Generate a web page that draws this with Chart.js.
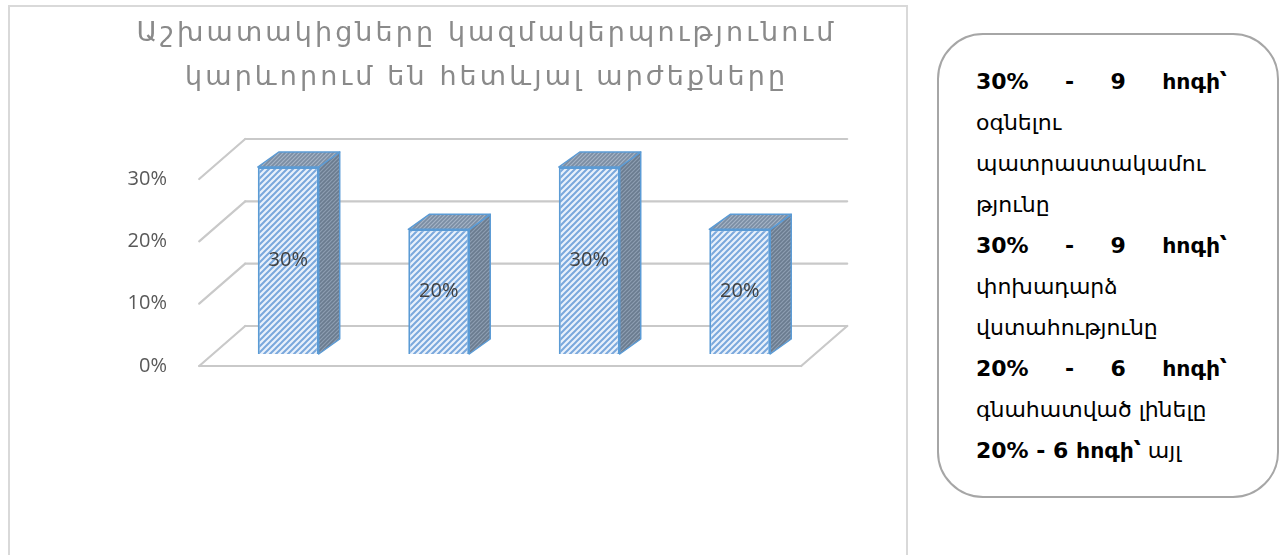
<!DOCTYPE html>
<html lang="hy">
<head>
<meta charset="UTF-8">
<title>Արժեքներ</title>
<script src="https://cdn.jsdelivr.net/npm/chart.js"></script>
<style>
  body { margin: 0; background: #fff; width: 1284px; height: 555px; overflow: hidden; position: relative; }
  #frame { position: absolute; left: 8px; top: 5px; width: 900px; height: 600px; border: 2px solid #d9d9d9; box-sizing: border-box; }
  #chart { position: absolute; left: 0; top: 0; }
  #note {
    position: absolute; left: 937px; top: 33px; width: 342px; height: 465px;
    border: 2px solid #a6a6a6; border-radius: 46px; box-sizing: border-box;
    padding: 26px 50px 0 37px;
    font-family: "DejaVu Sans", sans-serif; font-size: 22px; line-height: 41px; color: #000;
  }
  #note div { white-space: nowrap; }
  #note .j { text-align: justify; text-align-last: justify; }
  #note b { font-weight: bold; }
</style>
</head>
<body>
<div id="frame"></div>
<canvas id="chart" width="910" height="555"></canvas>
<div id="note">
  <div class="j"><b>30% - 9 հոգի՝</b></div>
  <div>օգնելու</div>
  <div>պատրաստակամու</div>
  <div>թյունը</div>
  <div class="j"><b>30% - 9 հոգի՝</b></div>
  <div>փոխադարձ</div>
  <div>վստահությունը</div>
  <div class="j"><b>20% - 6 հոգի՝</b></div>
  <div>գնահատված լինելը</div>
  <div><b>20% - 6 հոգի՝</b> այլ</div>
</div>

<script>
// data
const titleLines = ['Աշխատակիցները կազմակերպությունում', 'կարևորում են հետևյալ արժեքները'];
const categories = ['1', '2', '3', '4'];
const values = [30, 20, 30, 20];
const tickValues = [0, 10, 20, 30];

// 3d look
const FLOOR_DX = 46, FLOOR_DY = 40;   // depth of the floor
const FRONT_D = 0.3;                  // bars stand at this depth of the floor
const BAR_DX = 21, BAR_DY = 15;       // depth of a bar
const GRID = '#c9c9c9';

function hatch(bg, fg, size, lw) {
  const c = document.createElement('canvas');
  c.width = size; c.height = size;
  const g = c.getContext('2d');
  g.fillStyle = bg;
  g.fillRect(0, 0, size, size);
  g.strokeStyle = fg;
  g.lineWidth = lw;
  g.beginPath();
  g.moveTo(-1, size + 1); g.lineTo(size + 1, -1);
  g.moveTo(-1, 1); g.lineTo(1, -1);
  g.moveTo(size - 1, size + 1); g.lineTo(size + 1, size - 1);
  g.stroke();
  return g.createPattern(c, 'repeat');
}

const ctx = document.getElementById('chart').getContext('2d');
const frontFill = hatch('#e9f1fb', '#7aa8dc', 6, 2);
const sideFill = hatch('#6a7b8f', '#8d9eb2', 4, 1.2);
const topFill = hatch('#7b8da3', '#a5b4c6', 4, 1.2);

const titlePlugin = {
  id: 'spacedTitle',
  afterDraw(chart) {
    const c = chart.ctx;
    c.save();
    c.font = '27px "DejaVu Sans"';
    c.fillStyle = '#8a8a8a';
    c.textAlign = 'left';
    c.textBaseline = 'alphabetic';
    // spread the first line to its width in the picture, same spacing for the second
    const w0 = c.measureText(titleLines[0]).width;
    const sp = (700 - w0) / titleLines[0].length;
    c.letterSpacing = sp + 'px';
    const cx = 485;
    titleLines.forEach((t, i) => {
      const w = c.measureText(t).width - sp;
      c.fillText(t, cx - w / 2, 41 + i * 44);
    });
    c.restore();
  }
};

const box3d = {
  id: 'box3d',
  beforeDatasetsDraw(chart) {
    const c = chart.ctx;
    const a = chart.chartArea;
    const y = chart.scales.y;
    const P = (x, py, d) => [x + (d - FRONT_D) * FLOOR_DX, py - (d - FRONT_D) * FLOOR_DY];
    c.save();
    c.strokeStyle = GRID;
    c.lineWidth = 2.2;
    c.lineCap = 'round';
    const line = (p, q) => { c.beginPath(); c.moveTo(p[0], p[1]); c.lineTo(q[0], q[1]); c.stroke(); };
    tickValues.forEach(v => {
      const py = y.getPixelForValue(v);
      line(P(a.left, py, 0), P(a.left, py, 1));
      line(P(a.left, py, 1), P(a.right, py, 1));
    });
    const p0 = y.getPixelForValue(0);
    line(P(a.left, p0, 0), P(a.right, p0, 0));
    line(P(a.right, p0, 0), P(a.right, p0, 1));

    // side and top faces of the bars
    c.strokeStyle = '#5b9bd5';
    c.lineWidth = 1.5;
    c.lineJoin = 'round';
    chart.getDatasetMeta(0).data.forEach(bar => {
      const l = bar.x - bar.width / 2, r = bar.x + bar.width / 2;
      const t = bar.y, b = bar.base;
      c.beginPath();
      c.moveTo(r, t); c.lineTo(r + BAR_DX, t - BAR_DY); c.lineTo(r + BAR_DX, b - BAR_DY); c.lineTo(r, b);
      c.closePath();
      c.fillStyle = sideFill; c.fill(); c.stroke();
      c.beginPath();
      c.moveTo(l, t); c.lineTo(l + BAR_DX, t - BAR_DY); c.lineTo(r + BAR_DX, t - BAR_DY); c.lineTo(r, t);
      c.closePath();
      c.fillStyle = topFill; c.fill(); c.stroke();
    });
    c.restore();
  },
  afterDatasetsDraw(chart) {
    const c = chart.ctx;
    c.save();
    c.font = '20px "Open Sans"';
    c.fillStyle = '#404040';
    c.textAlign = 'center';
    c.textBaseline = 'middle';
    chart.getDatasetMeta(0).data.forEach((bar, i) => {
      c.fillText(values[i] + '%', bar.x, (bar.y + bar.base) / 2);
    });
    c.restore();
  }
};

new Chart(ctx, {
  type: 'bar',
  data: {
    labels: categories,
    datasets: [{
      data: values,
      backgroundColor: frontFill,
      borderColor: '#5b9bd5',
      borderWidth: 2,
      barPercentage: 0.405,
      categoryPercentage: 1
    }]
  },
  options: {
    responsive: false,
    animation: false,
    events: [],
    layout: { padding: { top: 167, bottom: 201, left: 0, right: 95 } },
    plugins: { legend: { display: false }, tooltip: { enabled: false }, title: { display: false } },
    scales: {
      x: { display: false },
      y: {
        min: 0, max: 30,
        afterFit(s) { s.width = 213; },
        afterBuildTicks(s) { s.ticks = tickValues.map(v => ({ value: v })); },
        grid: { display: false },
        border: { display: false },
        ticks: {
          padding: 38,
          labelOffset: 12,
          color: '#595959',
          font: { family: 'Open Sans', size: 20 },
          callback: v => v + '%'
        }
      }
    }
  },
  plugins: [box3d, titlePlugin]
});
</script>
</body>
</html>
